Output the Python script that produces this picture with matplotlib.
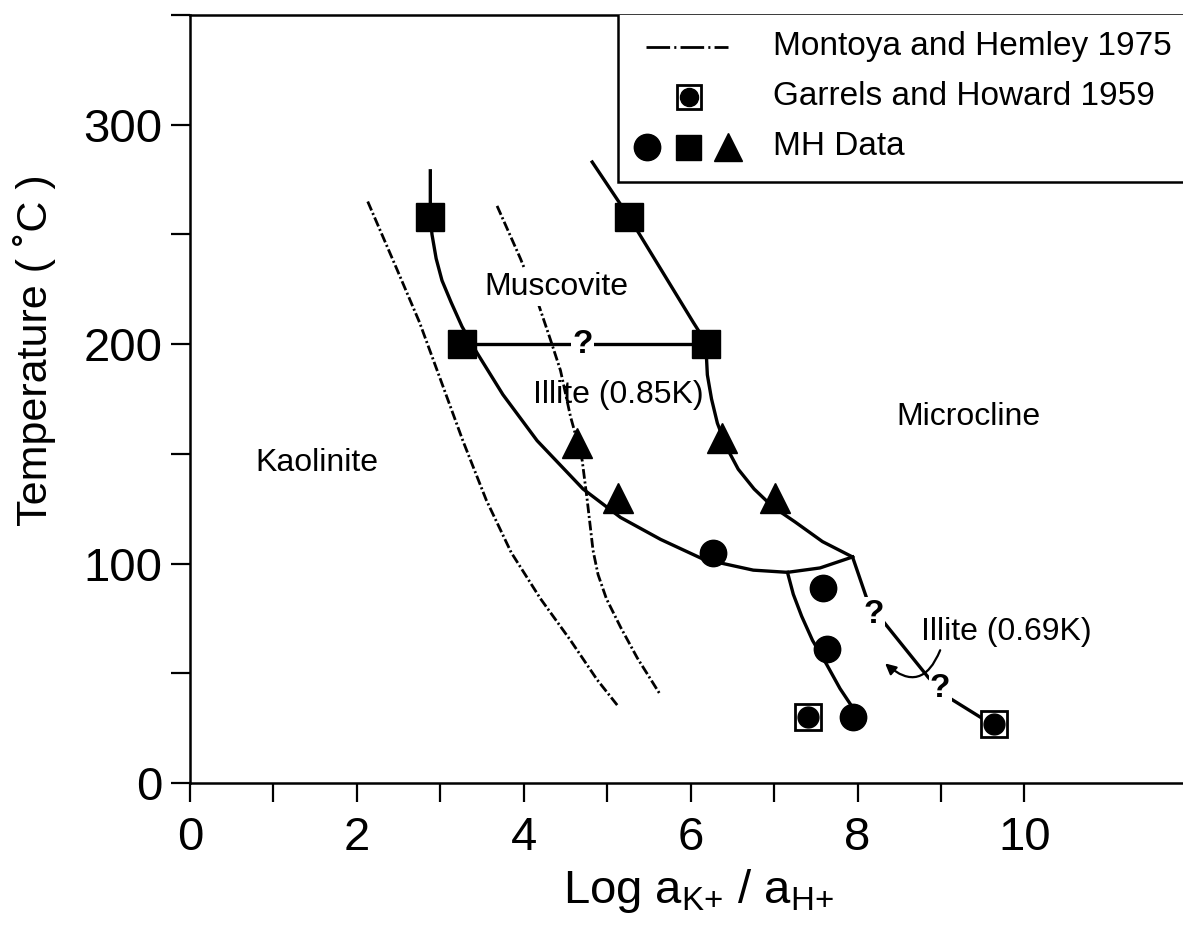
import matplotlib.pyplot as plt
from matplotlib.patches import Rectangle

plt.rcParams['font.family'] = ['Liberation Sans', 'DejaVu Sans']
plt.rcParams['mathtext.fontset'] = 'custom'
plt.rcParams['mathtext.rm'] = 'Liberation Sans'
plt.rcParams['lines.scale_dashes'] = False

# MH data points
circ_x = [6.27, 7.59, 7.63, 7.95]
circ_y = [105, 89, 61, 30]
sq_x = [2.88, 5.26, 3.26, 6.18]
sq_y = [258, 258, 200, 200]
tri_x = [4.64, 5.13, 6.38, 7.01]
tri_y = [155, 130, 157, 130]

# Garrels and Howard 1959
gh_x = [7.41, 9.63]
gh_y = [30, 27]

# Montoya and Hemley 1975 (dash-dot)
mh1_x = [2.13, 2.47, 2.75, 3.02, 3.27, 3.55, 3.85, 4.20, 4.56, 4.88, 5.13]
mh1_y = [265, 235, 210, 182, 156, 129, 105, 84, 65, 47, 35]
mh2_x = [3.68, 3.96, 4.16, 4.32, 4.44, 4.56, 4.64, 4.70, 4.76, 4.83, 4.89,
         4.99, 5.16, 5.36, 5.64]
mh2_y = [263, 239, 220, 202, 188, 167, 156, 147, 129, 106, 95,
         84, 71, 57, 40]

# phase boundaries drawn through the MH data (solid)
kao_x = [2.88, 2.88, 2.90, 2.95, 3.02, 3.13, 3.26, 3.44, 3.75, 4.16, 4.71,
         5.16, 5.64, 6.15, 6.75, 7.16, 7.55, 7.94]
kao_y = [279, 258, 250, 239, 229, 219, 208, 196, 177, 156, 134,
         121, 111, 102, 97, 96, 98, 103]
mic_x = [4.82, 5.26, 6.03, 6.18, 6.20, 6.25, 6.32, 6.43, 6.57, 6.76, 6.98,
         7.25, 7.58, 7.94]
mic_y = [283, 258, 210, 201, 186, 175, 164, 153, 143, 134, 126,
         119, 110, 103]
ill_left_x = [7.16, 7.23, 7.33, 7.46, 7.63, 7.79, 7.93]
ill_left_y = [96, 86, 76, 65, 54, 43, 35]
ill_right_x = [7.94, 8.12, 8.30, 8.85, 9.09, 9.64]
ill_right_y = [103, 83, 74, 48, 39, 26]
hline_x = [3.26, 6.18]
hline_y = [200, 200]

dashdot = (0, (7, 2, 1.5, 2))

fig = plt.figure(figsize=(11.83, 9.33), dpi=100)
ax = fig.add_axes([0.1606, 0.1608, 0.8394, 0.8231])

ax.plot(mh1_x, mh1_y, color='black', lw=2, ls=dashdot)
ax.plot(mh2_x, mh2_y, color='black', lw=2, ls=dashdot)
for xs, ys in [(kao_x, kao_y), (mic_x, mic_y), (ill_left_x, ill_left_y),
               (ill_right_x, ill_right_y), (hline_x, hline_y)]:
    ax.plot(xs, ys, color='black', lw=2.4, solid_joinstyle='round')

ax.plot(sq_x, sq_y, 's', color='black', ms=20, zorder=5)
ax.plot(circ_x, circ_y, 'o', color='black', ms=19, zorder=5)
ax.plot(tri_x, tri_y, '^', color='black', ms=21, zorder=5)
ax.plot(gh_x, gh_y, 's', mfc='white', mec='black', mew=2, ms=19, zorder=5)
ax.plot(gh_x, gh_y, 'o', color='black', ms=15, zorder=6)

lbl = dict(fontsize=23, ha='center', va='center')
ax.text(4.39, 226, 'Muscovite', zorder=4,
        bbox=dict(facecolor='white', edgecolor='none', pad=3), **lbl)
ax.text(5.13, 177, 'Illite (0.85K)', **lbl)
ax.text(9.33, 167, 'Microcline', **lbl)
ax.text(1.52, 146, 'Kaolinite', **lbl)
ax.text(9.78, 69, 'Illite (0.69K)', **lbl)
qbox = dict(facecolor='white', edgecolor='none', pad=1)
for qx, qy in [(4.70, 200), (8.19, 77), (8.99, 43)]:
    ax.text(qx, qy, '?', zorder=4, bbox=qbox, fontweight='bold',
            fontsize=24, ha='center', va='center')

ax.annotate('', xy=(8.33, 54.5), xytext=(8.99, 60.5),
            arrowprops=dict(arrowstyle='-|>', connectionstyle='arc3,rad=-0.7',
                            color='black', lw=1.6, mutation_scale=16,
                            shrinkA=0, shrinkB=0))

# legend box
ax.add_patch(Rectangle((5.13, 274), 8, 100, facecolor='white', edgecolor='black',
                       lw=1.8, zorder=7))
ax.plot([5.46, 6.45], [335.5, 335.5], color='black', lw=2,
        ls=(0, (17, 3, 1.5, 3)), zorder=8)
ax.plot(5.98, 312.7, 's', mfc='white', mec='black', mew=2, ms=17, zorder=8)
ax.plot(5.98, 312.7, 'o', color='black', ms=13, zorder=9)
ax.plot(5.48, 289.9, 'o', color='black', ms=19, zorder=8)
ax.plot(5.97, 289.9, 's', color='black', ms=18, zorder=8)
ax.plot(6.45, 289.9, '^', color='black', ms=20, zorder=8)
leg = dict(fontsize=24, va='center', zorder=8)
ax.text(6.99, 335.5, 'Montoya and Hemley 1975', **leg)
ax.text(6.99, 312.7, 'Garrels and Howard 1959', **leg)
ax.text(6.99, 289.9, 'MH Data', **leg)

ax.set_xlim(0, 11.9)
ax.set_ylim(0, 350)
ax.set_xticks(range(0, 11, 2))
ax.set_xticks(range(1, 10, 2), minor=True)
ax.set_yticks(range(0, 301, 100))
ax.set_yticks(range(50, 351, 100), minor=True)
ax.tick_params(which='both', direction='out', length=14, width=1.6)
ax.tick_params(axis='x', labelsize=34, pad=10)
ax.tick_params(axis='y', labelsize=34, pad=6)
ax.spines['right'].set_visible(False)
for s in ['left', 'bottom', 'top']:
    ax.spines[s].set_linewidth(1.8)

ax.set_xlabel(r'Log a$_{\mathregular{K{+}}}$ / a$_{\mathregular{H{+}}}$',
              fontsize=34, va='top')
ax.xaxis.set_label_coords(0.512, -0.11)
ax.set_ylabel('Temperature ( ˚C )', fontsize=31, va='center')
ax.yaxis.set_label_coords(-0.157, 0.564)

fig.savefig('out.png', dpi=100)
